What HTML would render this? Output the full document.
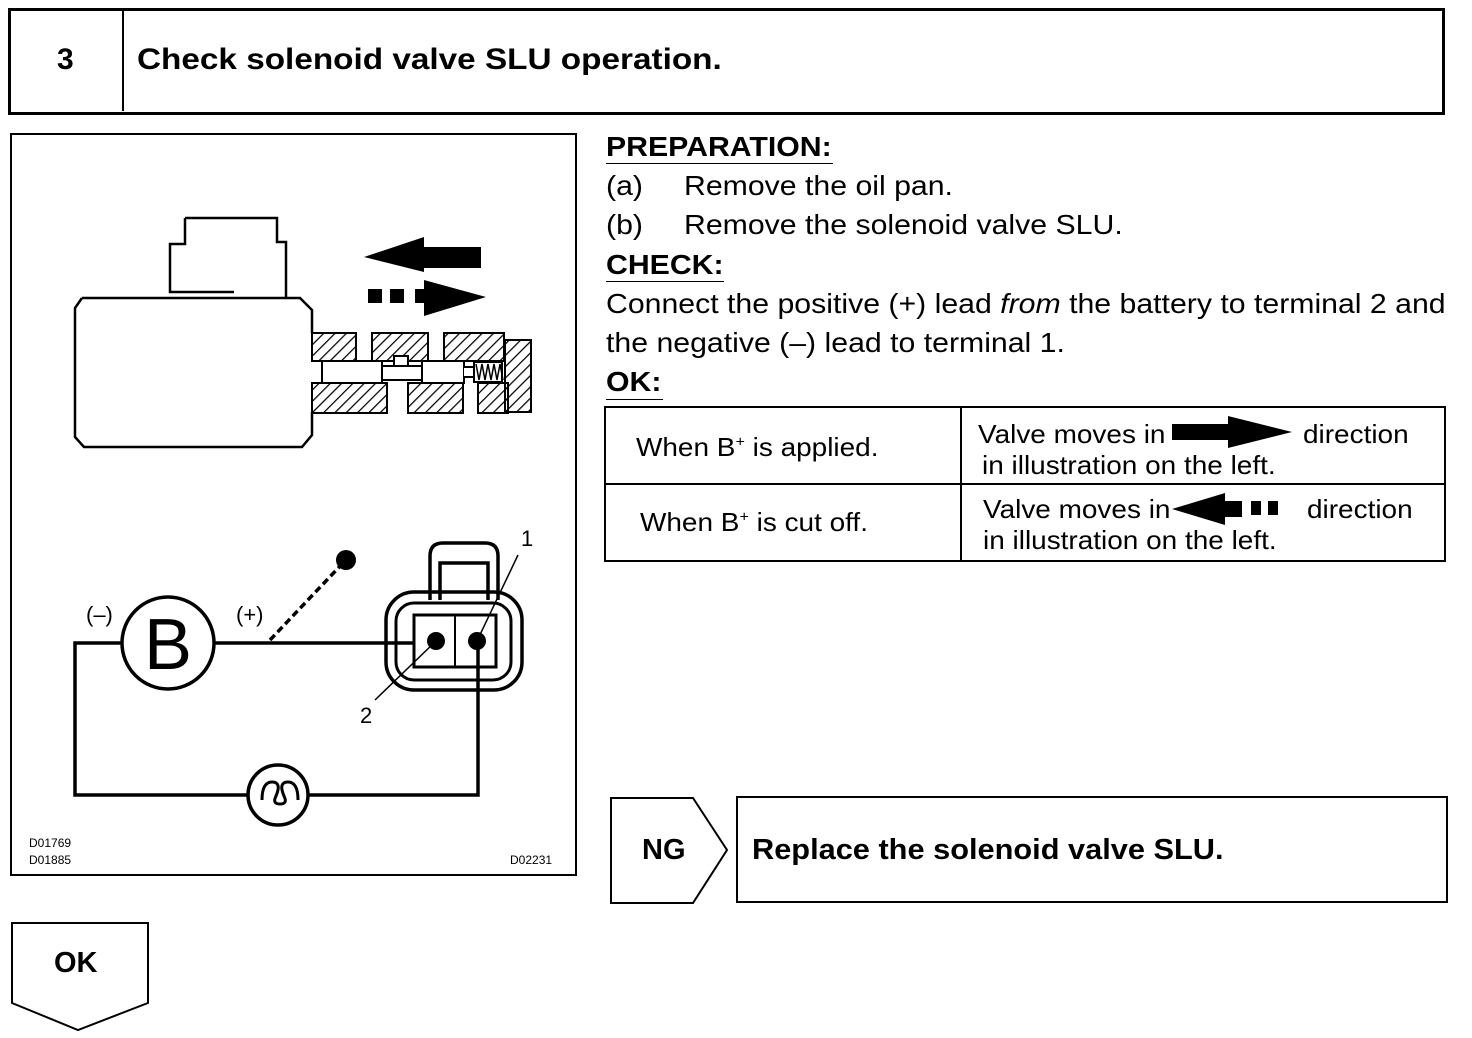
<!DOCTYPE html>
<html><head><meta charset="utf-8"><style>
body{margin:0;width:1472px;height:1038px;background:#fff;position:relative;font-family:"Liberation Sans",Arial,sans-serif;color:#000;overflow:hidden}
.a{position:absolute;white-space:nowrap;transform-origin:0 0}
.t{font-size:28px;line-height:39px;transform:scaleX(1.08)}
.s{font-size:26px;transform:scaleX(1.075)}
.b{font-weight:bold}
</style></head><body>
<div class="a" style="left:8px;top:8px;width:1431px;height:101px;border:3px solid #000"></div>
<div class="a" style="left:122px;top:10px;width:2px;height:101px;background:#000"></div>
<div class="a b" style="left:57px;top:43px;font-size:30px">3</div>
<div class="a b" style="left:137px;top:43px;font-size:30px;transform:scaleX(1.11)">Check solenoid valve SLU operation.</div>

<div class="a" style="left:10px;top:133px;width:563px;height:739px;border:2px solid #000"></div>

<div class="a t b" style="left:606px;top:127px">PREPARATION:</div>
<div class="a" style="left:606px;top:163px;width:227px;height:1px;background:#000"></div>
<div class="a t" style="left:606px;top:166px">(a)</div><div class="a t" style="left:684px;top:166px">Remove the oil pan.</div>
<div class="a t" style="left:606px;top:205px">(b)</div><div class="a t" style="left:684px;top:205px">Remove the solenoid valve SLU.</div>
<div class="a t b" style="left:606px;top:245px">CHECK:</div>
<div class="a" style="left:606px;top:281px;width:118px;height:1px;background:#000"></div>
<div class="a t" style="left:606px;top:284px">Connect the positive (+) lead <i>from</i> the battery to terminal 2 and</div>
<div class="a t" style="left:606px;top:323px">the negative (–) lead to terminal 1.</div>
<div class="a t b" style="left:606px;top:362px">OK:</div>
<div class="a" style="left:606px;top:399px;width:57px;height:1px;background:#000"></div>

<svg class="a" style="left:0;top:0" width="1472" height="1038">
<g fill="none" stroke="#000" stroke-width="2">
<rect x="605" y="407" width="840" height="154"/>
<line x1="605" y1="484" x2="1445" y2="484"/>
<line x1="961" y1="407" x2="961" y2="561"/>
<polygon points="611,798 693,798 727,850 693,903 611,903"/>
<rect x="737" y="797" width="710" height="105"/>
<polygon points="12,923 148,923 148,1003 78,1030 12,1003"/>
</g>
<rect x="1172" y="424" width="60" height="16"/><polygon points="1228,416 1228,448 1292,432"/>
<polygon points="1172,509 1225,493 1225,525"/><rect x="1222" y="501" width="20" height="16"/>
<rect x="1251" y="501" width="10" height="14"/><rect x="1268" y="501" width="10" height="14"/>

<g fill="none" stroke="#000" stroke-width="2.5">
<path d="M185,218 H277 V242 H286 V298 M185,218 V244 H170 V292 H234"/>
<path d="M82,298 H300 L312,310 V333 M312,412 V435 L302,447 H84 L75,437 V308 L82,298"/>
</g>
<defs><pattern id="h" width="8" height="8" patternUnits="userSpaceOnUse" patternTransform="rotate(45)"><line x1="0" y1="0" x2="0" y2="8" stroke="#000" stroke-width="2.5"/></pattern></defs>
<g fill="url(#h)" stroke="#000" stroke-width="2">
<rect x="312" y="333" width="44" height="28"/><rect x="372" y="333" width="56" height="28"/><rect x="444" y="333" width="60" height="28"/>
<rect x="312" y="383" width="75" height="30"/><rect x="408" y="383" width="55" height="30"/><rect x="478" y="383" width="30" height="30"/>
<rect x="505" y="340" width="26" height="72"/>
</g>
<g fill="#fff" stroke="#000" stroke-width="2">
<rect x="322" y="361" width="60" height="22"/><rect x="382" y="366" width="42" height="14"/><rect x="422" y="361" width="42" height="22"/>
<rect x="394" y="356" width="14" height="10"/><path d="M464,367 h10 v10 h-10 M474,362 h28 v20 h-28z"/>
</g>
<path d="M476,364 l3,16 l3,-16 l3,16 l3,-16 l3,16 l3,-16 l3,16 l3,-16 l3,16" stroke="#000" fill="none" stroke-width="1.5"/>
<rect x="420" y="247" width="61" height="21"/><polygon points="364,257 424,237 424,272"/>
<rect x="368" y="289" width="14" height="14"/><rect x="390" y="289" width="14" height="14"/>
<rect x="415" y="289" width="14" height="14"/><polygon points="424,280 424,316 486,297"/>

<g fill="none" stroke="#000" stroke-width="3.5">
<circle cx="168" cy="643" r="46"/>
<path d="M122,643 H75 V795 H248 M308,795 H478 V643 M214,643 H415"/>
<circle cx="278" cy="795" r="30"/>
<path d="M262,800 q0,-18 10,-18 q10,0 4,14 q-4,8 4,8 q8,0 4,-8 q-6,-14 4,-14 q10,0 10,18" stroke-width="3"/>
<path d="M430,600 V556 Q430,543 443,543 H485 Q498,543 498,556 V600 M440,600 V563 H488 V600"/>
<rect x="386" y="592" width="136" height="98" rx="28"/>
<rect x="396" y="603" width="115" height="77" rx="18" stroke-width="3"/>
<rect x="414" y="615" width="82" height="52" stroke-width="3"/>
<line x1="455" y1="615" x2="455" y2="667" stroke-width="2"/>
</g>
<circle cx="436" cy="641" r="9"/><circle cx="477" cy="641" r="9"/>
<line x1="270" y1="640" x2="343" y2="563" stroke="#000" stroke-width="3.5" stroke-dasharray="7,4"/>
<circle cx="346" cy="560" r="10"/>
<g stroke="#000" stroke-width="1.5"><line x1="477" y1="641" x2="518" y2="555"/><line x1="436" y1="641" x2="375" y2="700"/></g>
<g font-family="Liberation Sans,Arial,sans-serif">
<text x="168" y="669" font-size="72" text-anchor="middle">B</text>
<text x="86" y="622" font-size="22">(–)</text><text x="236" y="622" font-size="22">(+)</text>
<text x="521" y="546" font-size="22">1</text><text x="360" y="723" font-size="22">2</text>
<text x="29" y="847" font-size="12">D01769</text><text x="29" y="864" font-size="12">D01885</text>
<text x="510" y="864" font-size="12">D02231</text>
</g>
</svg>

<div class="a s" style="left:636px;top:432px">When B<sup style="font-size:15px">+</sup> is applied.</div>
<div class="a s" style="left:640px;top:507px">When B<sup style="font-size:15px">+</sup> is cut off.</div>
<div class="a s" style="left:978px;top:419px">Valve moves in</div>
<div class="a s" style="left:1303px;top:419px">direction</div>
<div class="a s" style="left:982px;top:450px">in illustration on the left.</div>
<div class="a s" style="left:983px;top:494px">Valve moves in</div>
<div class="a s" style="left:1307px;top:494px">direction</div>
<div class="a s" style="left:983px;top:525px">in illustration on the left.</div>

<div class="a b" style="left:642px;top:834px;font-size:29px">NG</div>
<div class="a b" style="left:752px;top:834px;font-size:29px;transform:scaleX(1.06)">Replace the solenoid valve SLU.</div>
<div class="a b" style="left:54px;top:947px;font-size:29px">OK</div>
</body></html>
